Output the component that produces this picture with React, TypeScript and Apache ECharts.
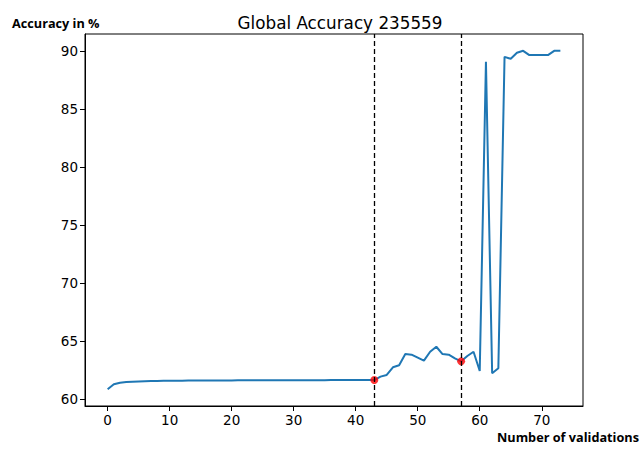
import React, { useEffect, useRef } from "react";
import * as echarts from "echarts";

const titleText = "Global Accuracy 235559";
const yAxisName = "Accuracy in %";
const xAxisName = "Number of validations";

const accuracy: number[] = [
  60.86, 61.29, 61.43, 61.49, 61.52, 61.54, 61.56, 61.57, 61.58, 61.59,
  61.6, 61.6, 61.6, 61.61, 61.61, 61.61, 61.61, 61.62, 61.62, 61.62,
  61.62, 61.63, 61.63, 61.63, 61.64, 61.64, 61.64, 61.64, 61.64, 61.65,
  61.65, 61.65, 61.65, 61.65, 61.65, 61.65, 61.66, 61.66, 61.66, 61.66,
  61.66, 61.66, 61.66, 61.66, 61.95, 62.1, 62.76, 62.93, 63.9, 63.85,
  63.59, 63.33, 64.1, 64.53, 63.9, 63.85, 63.53, 63.27, 63.73, 64.1,
  62.44, 89.1, 62.24, 62.67, 89.53, 89.36, 89.88, 90.05, 89.68, 89.68,
  89.68, 89.68, 90.05, 90.05,
];
const markerIdx: number[] = [43, 57];
const xTicks: number[] = [0, 10, 20, 30, 40, 50, 60, 70];
const yTicks: number[] = [60, 65, 70, 75, 80, 85, 90];

export default function App() {
  const ref = useRef<HTMLDivElement>(null);
  useEffect(() => {
    if (!ref.current) return;
    const chart = echarts.init(ref.current, null, { renderer: "svg" });
    const lineData = accuracy.map((v, i) => [i, v]);
    const dotData = markerIdx.map((i) => [i, accuracy[i]]);
    const tickFont = { fontFamily: "DejaVu Sans", fontSize: 13.5, color: "#000" };
    chart.setOption({
      animation: false,
      backgroundColor: "#fff",
      title: {
        text: titleText,
        left: 335,
        top: 9,
        textAlign: "center",
        textStyle: { fontFamily: "DejaVu Sans", fontSize: 16.8, fontWeight: "normal", color: "#000" },
      },
      grid: {
        left: 85,
        right: 57,
        top: 34,
        bottom: 45,
        show: true,
        borderColor: "#000",
        borderWidth: 1,
        backgroundColor: "transparent",
      },
      xAxis: {
        type: "value",
        min: -3.65,
        max: 76.65,
        splitLine: { show: false },
        axisLine: { show: true, onZero: false, lineStyle: { color: "#000", width: 1 } },
        axisTick: { show: true, length: 5, lineStyle: { color: "#000" }, customValues: xTicks },
        axisLabel: { ...tickFont, margin: 7, customValues: xTicks },
      },
      yAxis: {
        type: "value",
        min: 59.42,
        max: 91.5,
        splitLine: { show: false },
        axisLine: { show: true, onZero: false, lineStyle: { color: "#000", width: 1 } },
        axisTick: { show: true, length: 5, lineStyle: { color: "#000" }, customValues: yTicks },
        axisLabel: { ...tickFont, margin: 7, customValues: yTicks },
      },
      series: [
        {
          type: "line",
          data: lineData,
          showSymbol: false,
          symbol: "none",
          lineStyle: { color: "#1f77b4", width: 2 },
          z: 3,
          markLine: {
            silent: true,
            symbol: ["none", "none"],
            label: { show: false },
            lineStyle: { color: "#000", type: [5, 3], width: 1.3 },
            data: markerIdx.map((i) => ({ xAxis: i })),
          },
        },
        {
          type: "scatter",
          data: dotData,
          symbol: "circle",
          symbolSize: 8,
          itemStyle: { color: "#ff0000" },
          z: 4,
        },
      ],
      graphic: [
        {
          type: "text",
          left: 12,
          top: 16,
          style: { text: yAxisName, font: "bold 12.7px 'Open Sans'", fill: "#000" },
        },
        {
          type: "text",
          left: 497,
          top: 430,
          style: { text: xAxisName, font: "bold 12.7px 'Open Sans'", fill: "#000" },
        },
      ],
    });
    return () => chart.dispose();
  }, []);
  return <div ref={ref} style={{ width: 640, height: 451, position: "absolute", left: 0, top: 0 }} />;
}
